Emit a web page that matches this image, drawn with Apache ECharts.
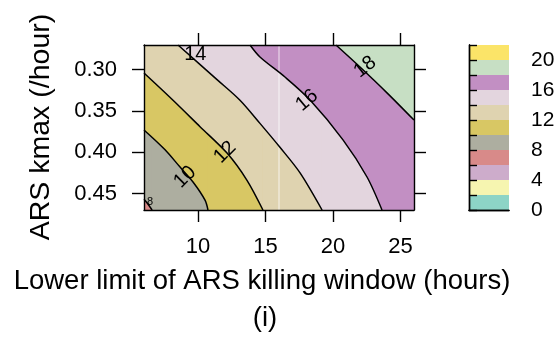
<!DOCTYPE html>
<html>
<head>
<meta charset="utf-8">
<script src="https://cdn.jsdelivr.net/npm/echarts@6/dist/echarts.min.js"></script>
<style>
  html, body { margin: 0; padding: 0; background: #fff; }
  #chart { width: 558px; height: 345px; }
</style>
</head>
<body>
<div id="chart"></div>
<script>
// colour key: lower bound of each band (bands are 2 wide)
const bandStarts = [0, 2, 4, 6, 8, 10, 12, 14, 16, 18, 20];
const bandColors = ['#8dd4c6', '#f6f5b0', '#cdaccb', '#d88a89', '#adaea0', '#d8c764',
                    '#dfd3b0', '#e3d5de', '#c28fc3', '#c7dfc4', '#fbe468'];
const keyLabels = [0, 4, 8, 12, 16, 20];

// axes
const xTicks = [10, 15, 20, 25];
const yTicks = [0.30, 0.35, 0.40, 0.45];

// contour lines (x = hours, y = kmax /hour)
const contourLevels = [8, 10, 12, 14, 16, 18];
const contour8X = [6, 6.3, 6.6];
const contour8Y = [0.457, 0.463, 0.47];
const contour10X = [6, 7.56, 8.67, 9.63, 10.52, 10.74];
const contour10Y = [0.373, 0.397, 0.418, 0.436, 0.458, 0.47];
const contour12X = [6, 8.15, 10.15, 12.15, 13.63, 14.81];
const contour12Y = [0.304, 0.337, 0.369, 0.401, 0.434, 0.47];
const contour14X = [8.52, 11.41, 13.11, 14.59, 16.07, 17.56, 19.19];
const contour14Y = [0.27, 0.312, 0.337, 0.365, 0.394, 0.425, 0.47];
const contour16X = [13.85, 14.59, 16.44, 18.3, 20.74, 22.52, 23.63];
const contour16Y = [0.27, 0.2845, 0.3088, 0.3367, 0.385, 0.43, 0.47];
const contour18X = [20.22, 22.0, 24.0, 26.0];
const contour18Y = [0.27, 0.2967, 0.328, 0.361];

// contour labels
const labelText = ['8', '10', '12', '14', '16', '18'];
const labelX = [6.44, 9.04, 12.0, 9.8, 18.07, 22.37];
const labelY = [0.460, 0.430, 0.400, 0.282, 0.337, 0.2967];
const labelAngle = [0, 45, 45, 0, 40, 38];

// faint seam in the image
const seamX = [16, 16];
const seamY = [0.27, 0.47];

const xMin = 6, xMax = 26, yMin = 0.27, yMax = 0.47;
const FONT = '"Liberation Sans", Arial, sans-serif';

const contourX = [contour8X, contour10X, contour12X, contour14X, contour16X, contour18X];
const contourY = [contour8Y, contour10Y, contour12Y, contour14Y, contour16Y, contour18Y];
const contourPts = contourX.map((xs, i) => xs.map((x, j) => [x, contourY[i][j]]));

function bandColor(level) {
  return bandColors[bandStarts.indexOf(level)];
}

const axisLine = { show: true, lineStyle: { color: '#000', width: 1.4 } };
const tickStyle = { color: '#000', width: 1.4 };
const labelStyle = { color: '#000', fontSize: 22, fontFamily: FONT };
const SMOOTH = 0.3;

// region above each level: area between the contour and kmax = min,
// plus the full-height strip right of where the contour meets the bottom edge
const bandSeries = [];
contourPts.forEach((pts, i) => {
  const color = bandColor(contourLevels[i]);
  bandSeries.push({
    type: 'line', xAxisIndex: 0, yAxisIndex: 0, z: 1,
    data: pts, showSymbol: false, silent: true, smooth: SMOOTH,
    lineStyle: { width: 0 },
    areaStyle: { color, opacity: 1, origin: 'start' }
  });
  const last = pts[pts.length - 1];
  if (last[1] === yMax && last[0] < xMax) {
    bandSeries.push({
      type: 'custom', xAxisIndex: 0, yAxisIndex: 0, z: 1, silent: true,
      data: [[last[0], yMax]],
      renderItem: (params, api) => {
        const p0 = api.coord([api.value(0), yMin]);
        const p1 = api.coord([xMax, yMax]);
        return {
          type: 'rect',
          shape: { x: p0[0] - 0.5, y: p0[1], width: p1[0] - p0[0] + 0.5, height: p1[1] - p0[1] },
          style: { fill: color }
        };
      }
    });
  }
});

let chart = echarts.init(document.getElementById('chart'), null, { renderer: 'canvas' });

chart.setOption({
  animation: false,
  backgroundColor: '#fff',
  grid: [
    { left: 144, top: 45, width: 270, height: 165, show: true, borderWidth: 0,
      backgroundColor: bandColor(6) },
    { left: 469, top: 45, width: 40, height: 165 }
  ],
  xAxis: [
    {
      type: 'value', gridIndex: 0, min: xMin, max: xMax, position: 'bottom', z: 10,
      axisLine, splitLine: { show: false },
      axisTick: { show: true, length: 12, lineStyle: tickStyle, customValues: xTicks },
      axisLabel: Object.assign({ margin: 26, customValues: xTicks }, labelStyle)
    },
    {
      type: 'value', gridIndex: 0, min: xMin, max: xMax, position: 'top', z: 10,
      axisLine, splitLine: { show: false },
      axisTick: { show: true, length: 12, lineStyle: tickStyle, customValues: xTicks },
      axisLabel: { show: false }
    },
    {
      type: 'value', gridIndex: 1, min: 0, max: 1, position: 'bottom', z: 10,
      axisLine, splitLine: { show: false }, axisTick: { show: false }, axisLabel: { show: false }
    },
    {
      type: 'value', gridIndex: 1, min: 0, max: 1, position: 'top', z: 10,
      axisLine, splitLine: { show: false }, axisTick: { show: false }, axisLabel: { show: false }
    }
  ],
  yAxis: [
    {
      type: 'value', gridIndex: 0, min: yMin, max: yMax, inverse: true, position: 'left', z: 10,
      axisLine, splitLine: { show: false },
      axisTick: { show: true, length: 12, lineStyle: tickStyle, customValues: yTicks },
      axisLabel: Object.assign({ margin: 27, customValues: yTicks, formatter: v => v.toFixed(2) }, labelStyle)
    },
    {
      type: 'value', gridIndex: 0, min: yMin, max: yMax, inverse: true, position: 'right', z: 10,
      axisLine, splitLine: { show: false },
      axisTick: { show: true, length: 12, lineStyle: tickStyle, customValues: yTicks },
      axisLabel: { show: false }
    },
    {
      type: 'value', gridIndex: 1, min: 0, max: 22, position: 'right', z: 10,
      axisLine, splitLine: { show: false },
      axisTick: { show: true, length: 8, lineStyle: tickStyle, customValues: bandStarts.concat([22]) },
      axisLabel: Object.assign({}, labelStyle, { fontSize: 21, margin: 22, customValues: keyLabels })
    },
    {
      type: 'value', gridIndex: 1, min: 0, max: 22, position: 'left', z: 10,
      axisLine, splitLine: { show: false }, axisTick: { show: false }, axisLabel: { show: false }
    }
  ],
  graphic: [
    {
      type: 'text', x: 262, y: 281, z: 20,
      style: { text: 'Lower limit of ARS killing window (hours)', fill: '#000',
               font: '27.5px ' + FONT, align: 'center', verticalAlign: 'middle' }
    },
    {
      type: 'text', x: 265, y: 318, z: 20,
      style: { text: '(i)', fill: '#000', font: '27.5px ' + FONT, align: 'center', verticalAlign: 'middle' }
    },
    {
      type: 'text', x: 41, y: 127, rotation: Math.PI / 2, z: 20,
      style: { text: 'ARS kmax (/hour)', fill: '#000', font: '28.5px ' + FONT,
               align: 'center', verticalAlign: 'middle' }
    }
  ],
  series: [
    ...bandSeries,
    {
      type: 'line', xAxisIndex: 0, yAxisIndex: 0, z: 2,
      data: seamX.map((x, i) => [x, seamY[i]]),
      showSymbol: false, silent: true,
      lineStyle: { color: 'rgba(255,255,255,0.5)', width: 1.5 }
    },
    // contour lines
    ...contourPts.map(pts => ({
      type: 'line', xAxisIndex: 0, yAxisIndex: 0, z: 3,
      data: pts, showSymbol: false, silent: true, smooth: SMOOTH,
      lineStyle: { color: '#000', width: 1.5 }
    })),
    // contour labels
    {
      type: 'custom', xAxisIndex: 0, yAxisIndex: 0, z: 4,
      data: labelText.map((t, i) => [labelX[i], labelY[i]]),
      renderItem: (params, api) => {
        const i = params.dataIndex;
        const p = api.coord([labelX[i], labelY[i]]);
        return {
          type: 'text', x: p[0], y: p[1], rotation: labelAngle[i] * Math.PI / 180,
          style: { text: labelText[i], fill: '#000', font: (i === 0 ? 11 : 20) + 'px ' + FONT,
                   align: 'center', verticalAlign: 'middle' }
        };
      }
    },
    // colour key
    {
      type: 'custom', xAxisIndex: 2, yAxisIndex: 2, z: 1,
      data: bandStarts.map(b => [0, b]),
      renderItem: (params, api) => {
        const b = bandStarts[params.dataIndex];
        const p0 = api.coord([0, b]);
        const p1 = api.coord([1, b + 2]);
        return {
          type: 'rect',
          shape: { x: p0[0], y: p1[1], width: p1[0] - p0[0], height: p0[1] - p1[1] },
          style: { fill: bandColors[params.dataIndex] }
        };
      }
    }
  ]
});
</script>
</body>
</html>
